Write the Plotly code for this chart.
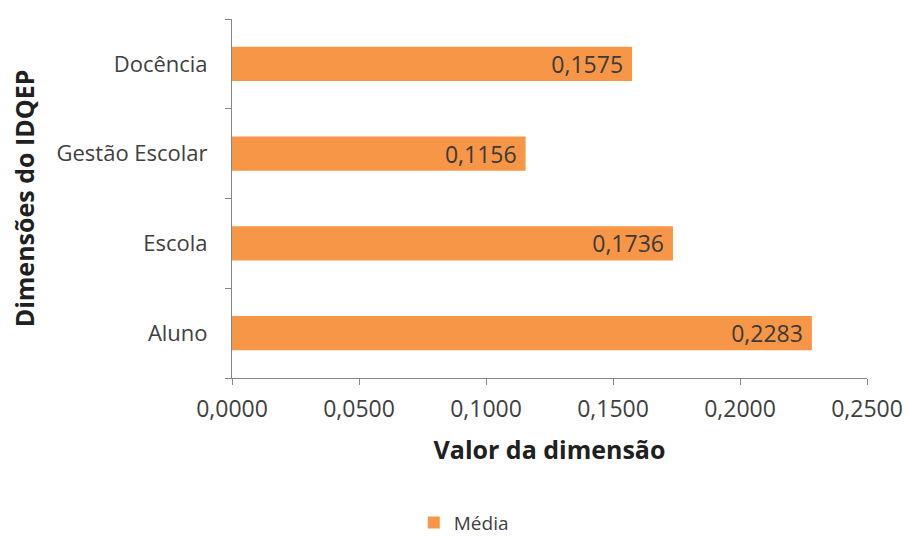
import plotly.graph_objects as go

categories = ["Aluno", "Escola", "Gestão Escolar", "Docência"]
values = [0.2283, 0.1736, 0.1156, 0.1575]
series_name = "Média"
x_ticks = [0.0, 0.05, 0.10, 0.15, 0.20, 0.25]
x_tick_labels = ["0,0000", "0,0500", "0,1000", "0,1500", "0,2000", "0,2500"]
value_labels = [f"{v:.4f}".replace(".", ",") for v in values]

FONT = "Open Sans, Lato, sans-serif"
ORANGE = "#F79646"
AXIS = "#868686"
TXT = "#404040"

fig = go.Figure(go.Bar(
    y=categories, x=values, orientation="h", name=series_name,
    marker=dict(color=ORANGE, line=dict(width=0)),
    text=value_labels, texttemplate="%{text}\u00a0", textposition="inside", insidetextanchor="end",
    constraintext="none",
    textfont=dict(family=FONT, size=23, color="#3a3a3a"),
    showlegend=True,
))

fig.update_layout(
    width=908, height=536,
    margin=dict(l=232, r=41, t=19, b=158, autoexpand=False),
    paper_bgcolor="white", plot_bgcolor="white",
    bargap=0.62,
    font=dict(family=FONT, size=22, color=TXT),
    xaxis=dict(
        range=[0, 0.25], tickvals=x_ticks, ticktext=x_tick_labels, automargin=False,
        showgrid=False, zeroline=False, showline=True, linecolor=AXIS, linewidth=1,
        ticks="outside", ticklen=6, tickcolor=AXIS, ticklabelstandoff=4,
        tickfont=dict(family=FONT, size=23, color=TXT),
        title=dict(text="<b>Valor da dimensão</b>", font=dict(family=FONT, size=25, color="#202020"), standoff=18),
    ),
    yaxis=dict(
        automargin=False,
        showgrid=False, zeroline=False, showline=True, linecolor=AXIS, linewidth=1,
        ticks="outside", ticklen=6, tickcolor=AXIS, tickson="boundaries",
        tickfont=dict(family=FONT, size=22, color=TXT),
        ticklabelstandoff=19,
        title=dict(text="<b>Dimensões do IDQEP</b>", font=dict(family=FONT, size=25, color="#202020"), standoff=14),
    ),
    legend=dict(orientation="h", x=0.365, xanchor="center", yref="container", y=0.025, yanchor="middle",
                font=dict(family=FONT, size=19, color=TXT)),
)

fig.write_html("out.html")
